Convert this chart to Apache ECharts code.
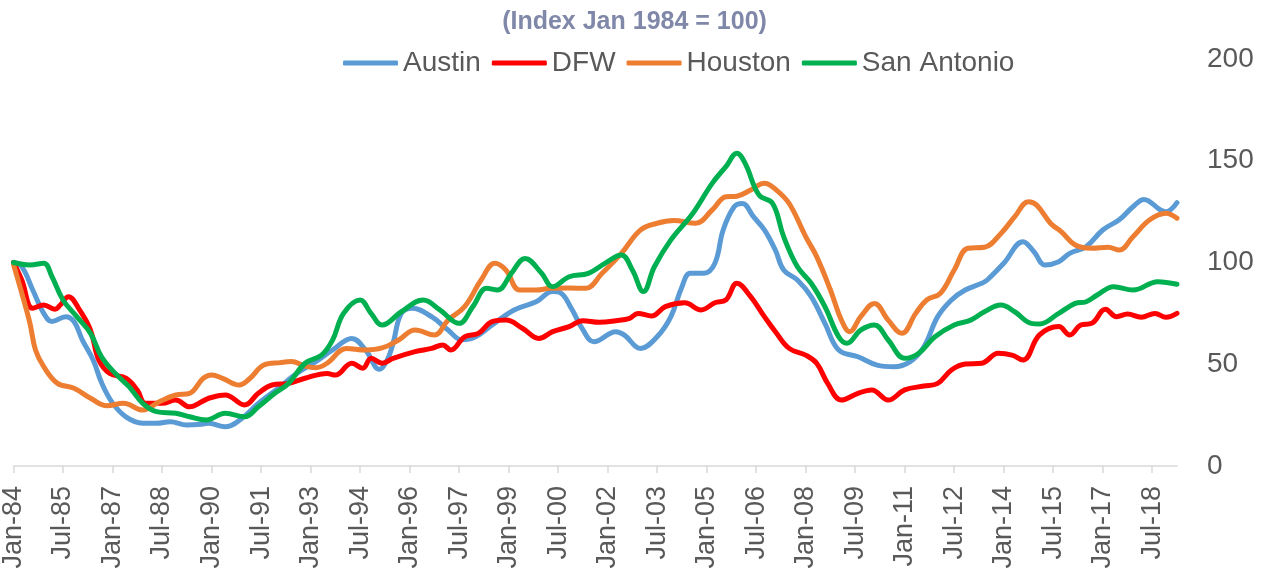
<!DOCTYPE html>
<html>
<head>
<meta charset="utf-8">
<script src="https://cdn.jsdelivr.net/npm/echarts@6/dist/echarts.min.js"></script>
<style>
  html, body { margin: 0; padding: 0; background: #fff; }
  #chart { width: 1269px; height: 576px; }
</style>
</head>
<body>
<div id="chart"></div>
<script>
// monthly axis Jan-84 .. Apr-19, a label every 18 months
const monthNames = ['Jan', 'Feb', 'Mar', 'Apr', 'May', 'Jun', 'Jul', 'Aug', 'Sep', 'Oct', 'Nov', 'Dec']
const firstYear = 1984
const monthCount = 424
const categories = []
for (let i = 0; i < monthCount; i++) {
  const y = (firstYear + Math.floor(i / 12)) % 100
  categories.push(monthNames[i % 12] + '-' + (y < 10 ? '0' + y : y))
}

const seriesNames = ['Austin', 'DFW', 'Houston', 'San Antonio']
const seriesColors = ['#5B9BD5', '#FF0000', '#ED7D31', '#00B050']

// [month index since Jan-84, index value]
const austinData = [
  [0, 100], [3, 98], [7, 86.5], [11, 75], [14, 71], [19, 73.4], [22, 71], [25, 62], [29, 52],
  [32, 41], [36, 31], [41, 24], [47, 21], [52, 21], [57, 21.8], [63, 20.2], [69, 20.6], [71, 21],
  [77, 19.3], [83, 23.4], [89, 30.8], [97, 39], [103, 45.5], [109, 50.5], [116, 57], [123, 62.7],
  [128, 57], [133, 47.5], [136, 52.5], [138, 60.3], [141, 75], [145, 77.5], [152, 73.4], [158, 66.8],
  [163, 62], [168, 63.5], [174, 69.3], [182, 76.7], [190, 80.7], [196, 85.7], [199, 85], [203, 77],
  [207, 67], [211, 61], [219, 66], [222, 64.4], [228, 57.8], [234, 63.5], [239, 73.4], [243, 88],
  [246, 94.7], [251, 94.7], [255, 99.6], [258, 116], [262, 127.4], [265, 129], [269, 122.5],
  [273, 116], [277, 106], [280, 96.3], [285, 91.4], [290, 83.2], [295, 70.1], [300, 57],
  [307, 53.7], [314, 49.6], [320, 48.8], [326, 51.3], [331, 58.6], [336, 73.4], [341, 81.6],
  [346, 86.5], [352, 89.8], [354, 91.4], [360, 99.6], [367, 110.2], [371, 105.3], [375, 98.8],
  [380, 100.4], [384, 104.5], [390, 107.8], [396, 116], [402, 121], [407, 127.4], [411, 131],
  [417, 125.8], [419, 125], [423, 129.4]
]
const dfwData = [
  [0, 100], [3, 91.4], [7, 77.5], [11, 79.1], [15, 77], [17, 79.1], [20, 83.2], [24, 76.7],
  [28, 66.8], [31, 52.1], [35, 45.5], [41, 43.1], [45, 37.3], [48, 30.8], [54, 30.8], [59, 32.4],
  [64, 29.1], [69, 32], [71, 33.3], [77, 34.9], [84, 30], [89, 35.7], [94, 39.8], [100, 40.6],
  [106, 43.1], [114, 45.5], [117, 44.7], [123, 50.5], [127, 48], [130, 52.9], [134, 50.5],
  [138, 52.9], [146, 56.2], [152, 57.8], [156, 59.5], [159, 57], [164, 63.5], [169, 65.2],
  [174, 70.9], [179, 71.7], [185, 67.7], [191, 62.7], [196, 66], [202, 68.5], [207, 71.4],
  [213, 70.6], [219, 71.4], [224, 72.6], [227, 75], [232, 73.7], [237, 78.3], [244, 80.2],
  [250, 76.7], [255, 80.2], [259, 81.6], [263, 89.8], [268, 83.2], [273, 73.4], [277, 66],
  [282, 57.8], [288, 54.5], [292, 50.5], [296, 40.6], [301, 32.4], [307, 35.7], [312, 37.4],
  [318, 32.4], [324, 37.4], [331, 39.3], [336, 40.6], [341, 47.2], [346, 50.1], [352, 50.5],
  [358, 55.4], [363, 54.5], [367, 52.1], [373, 64.4], [380, 68.5], [384, 64.4], [388, 69.3],
  [392, 70.1], [397, 77], [401, 73.4], [405, 74.7], [410, 73.1], [415, 75], [419, 73.1], [423, 75]
]
const houstonData = [
  [0, 99], [3, 85], [6, 70], [8, 57], [11, 48.8], [16, 40.6], [22, 38.2], [28, 33.3], [34, 29.6],
  [40, 30.8], [47, 27.5], [53, 31.6], [59, 34.9], [64, 35.7], [69, 43.1], [72, 44.7], [76, 43.1],
  [82, 39.8], [86, 43.1], [91, 49.6], [97, 50.8], [101, 51.3], [106, 49.1], [110, 48.3],
  [114, 50.5], [121, 57.8], [128, 57], [134, 58], [140, 61.9], [146, 66.8], [153, 64.4],
  [158, 71.7], [164, 78.3], [170, 91.4], [175, 99.6], [179, 96.3], [184, 86.5], [190, 86.5],
  [195, 87.3], [202, 87.5], [208, 87.3], [214, 94.7], [221, 104.5], [228, 116], [234, 119.3],
  [240, 120.6], [248, 119.3], [254, 125.8], [259, 132.3], [263, 132.6], [268, 135.6], [273, 139],
  [277, 136], [282, 129], [288, 112.7], [292, 102.9], [297, 86.5], [301, 71.7], [304, 66],
  [308, 73.4], [313, 79.9], [318, 71.7], [323, 65.2], [328, 75], [332, 81.6], [337, 84.9],
  [342, 96.3], [347, 107], [353, 107.5], [359, 114.3], [364, 122.5], [369, 129.9], [372, 128.2],
  [377, 119.3], [381, 115.1], [386, 108.6], [392, 107], [398, 107.5], [402, 106.1], [407, 112.7],
  [413, 120.9], [419, 124.2], [423, 121.7]
]
const sanAntonioData = [
  [0, 100], [6, 98.8], [11, 99.6], [14, 93], [18, 81.6], [23, 73.4], [28, 65.2], [32, 53.7],
  [37, 45.5], [42, 39], [47, 30.8], [52, 26.7], [59, 25.9], [64, 24.2], [70, 22.6], [77, 25.9],
  [84, 24.2], [89, 29.1], [95, 35.7], [100, 40.6], [106, 50.5], [112, 54.5], [116, 61.9],
  [120, 75], [126, 81.6], [130, 75], [134, 69.3], [141, 75.8], [149, 81.6], [155, 76.7],
  [162, 70.1], [167, 78.3], [172, 87.3], [176, 86.5], [181, 94.7], [186, 102], [192, 94.7],
  [196, 88.1], [202, 93], [209, 94.7], [215, 99.6], [221, 103.7], [225, 96.3], [229, 85.7],
  [233, 97.9], [239, 111.1], [247, 124.2], [254, 138.9], [259, 147.1], [263, 153.7], [266, 148.7],
  [271, 133.2], [276, 129], [280, 112.7], [285, 97.9], [290, 89.8], [295, 78.3], [300, 63.5],
  [303, 60.3], [308, 66.8], [313, 69.3], [318, 61.9], [324, 52.9], [329, 55.3], [335, 63.5],
  [342, 69.3], [348, 71.7], [353, 75.8], [359, 79.1], [364, 75.8], [370, 70.1], [373, 69.8],
  [380, 75], [386, 79.9], [390, 80.7], [394, 84], [400, 88.1], [407, 86.5], [416, 90.6], [423, 89.3]
]
const allData = [austinData, dfwData, houstonData, sanAntonioData]

const fontFamily = '"Liberation Sans", Arial, sans-serif'
const chart = echarts.init(document.getElementById('chart'))

chart.setOption({
  animation: false,
  title: {
    text: '(Index Jan 1984 = 100)',
    left: 'center',
    top: 5,
    textStyle: {
      color: '#8088A9',
      fontSize: 25,
      fontWeight: 'bold',
      fontFamily: fontFamily
    }
  },
  legend: {
    data: seriesNames.map(n => ({ name: n, icon: 'roundRect' })),
    left: 338,
    top: 44,
    itemWidth: 55,
    itemHeight: 5,
    itemGap: 11,
    textStyle: {
      color: '#595959',
      fontSize: 28,
      fontFamily: fontFamily
    }
  },
  grid: {
    left: 10,
    right: 92,
    top: 59,
    bottom: 110,
    containLabel: false
  },
  xAxis: {
    type: 'category',
    data: categories,
    boundaryGap: false,
    axisLine: { lineStyle: { color: '#D9D9D9', width: 1.5 } },
    axisTick: { interval: 17, length: 7, lineStyle: { color: '#D9D9D9', width: 1.5 } },
    axisLabel: {
      interval: 17,
      rotate: 90,
      margin: 20,
      color: '#595959',
      fontSize: 27,
      fontFamily: fontFamily
    },
    splitLine: { show: false }
  },
  yAxis: {
    type: 'value',
    position: 'right',
    min: 0,
    max: 200,
    interval: 50,
    axisLine: { show: false },
    axisTick: { show: false },
    splitLine: { show: false },
    axisLabel: {
      margin: 30,
      color: '#595959',
      fontSize: 28,
      fontFamily: fontFamily
    }
  },
  series: seriesNames.map((name, i) => ({
    name: name,
    type: 'line',
    data: allData[i],
    smooth: 0.4,
    symbol: 'none',
    color: seriesColors[i],
    lineStyle: { width: 5, color: seriesColors[i], cap: 'round', join: 'round' }
  }))
})
</script>
</body>
</html>
